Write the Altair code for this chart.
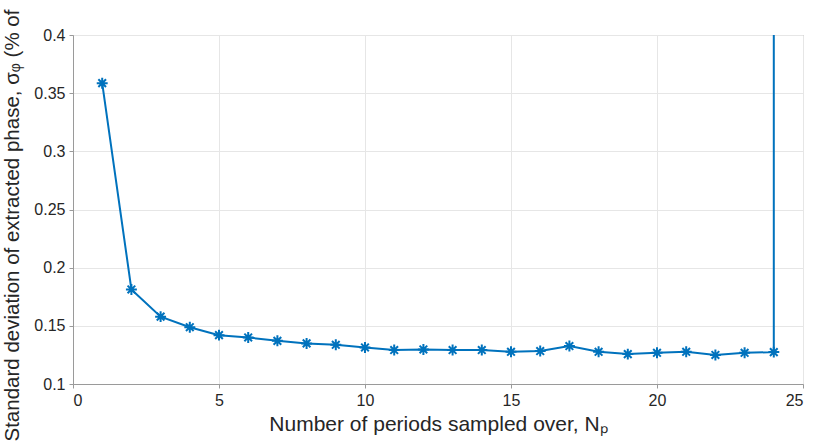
import altair as alt
import pandas as pd

periods = list(range(1, 25))
sigma = [0.3586, 0.1813, 0.1579, 0.1488, 0.1420, 0.1400, 0.1371, 0.1349, 0.1337,
         0.1314, 0.1292, 0.1297, 0.1292, 0.1292, 0.1277, 0.1283, 0.1326, 0.1277,
         0.1257, 0.1268, 0.1277, 0.1250, 0.1268, 0.1274]
# final sample shoots far off the top of the axes (drawn as a vertical line)
tail_x = [24]
tail_y = [0.6]

pts = pd.DataFrame({"x": periods, "y": sigma, "o": list(range(len(periods)))})
line_df = pd.concat([pts, pd.DataFrame({"x": tail_x, "y": tail_y, "o": [len(periods)]})],
                    ignore_index=True)

blue = "#0072BD"
font = "Liberation Sans"

xs = alt.Scale(domain=[0, 25], nice=False)
ys = alt.Scale(domain=[0.1, 0.4], nice=False)

xaxis = alt.Axis(values=[0, 5, 10, 15, 20, 25], format="d",
                 title="Number of periods sampled over, Nₚ",
                 titleFontSize=21, titleFontWeight="normal", titlePadding=5)
yaxis = alt.Axis(values=[0.1, 0.15, 0.2, 0.25, 0.3, 0.35, 0.4], format="~g",
                 title="Standard deviation of extracted phase, σᵩ (% of",
                 titleFontSize=20.5, titleFontWeight="normal",
                 titleAngle=-90, titleAlign="left", titleBaseline="top",
                 titleX=-71, titleY=406)

line = alt.Chart(line_df).mark_line(color=blue, strokeWidth=2, clip=True).encode(
    x=alt.X("x:Q", scale=xs, axis=xaxis),
    y=alt.Y("y:Q", scale=ys, axis=yaxis),
    order="o:Q",
)

star = "M-1,0L1,0M0,-1L0,1M-0.7,-0.7L0.7,0.7M-0.7,0.7L0.7,-0.7"
markers = alt.Chart(pts).mark_point(shape=star, filled=False, color=blue,
                                    strokeWidth=2, size=120, opacity=1, clip=True).encode(
    x=alt.X("x:Q", scale=xs),
    y=alt.Y("y:Q", scale=ys),
)

chart = (line + markers).properties(
    width=730, height=349,
    padding={"left": 73, "top": 35, "right": 10, "bottom": 61},
    autosize="none",
    background="white",
).configure_view(stroke="#9a9a9a", strokeWidth=1).configure_axis(
    labelFont=font, titleFont=font, labelFontSize=16, labelColor="#262626",
    titleColor="#262626", gridColor="#e6e6e6", domainColor="#9a9a9a",
    tickColor="#9a9a9a", tickSize=4, labelPadding=4,
)

chart.save("out.html", embed_options={"renderer": "svg", "actions": False})
